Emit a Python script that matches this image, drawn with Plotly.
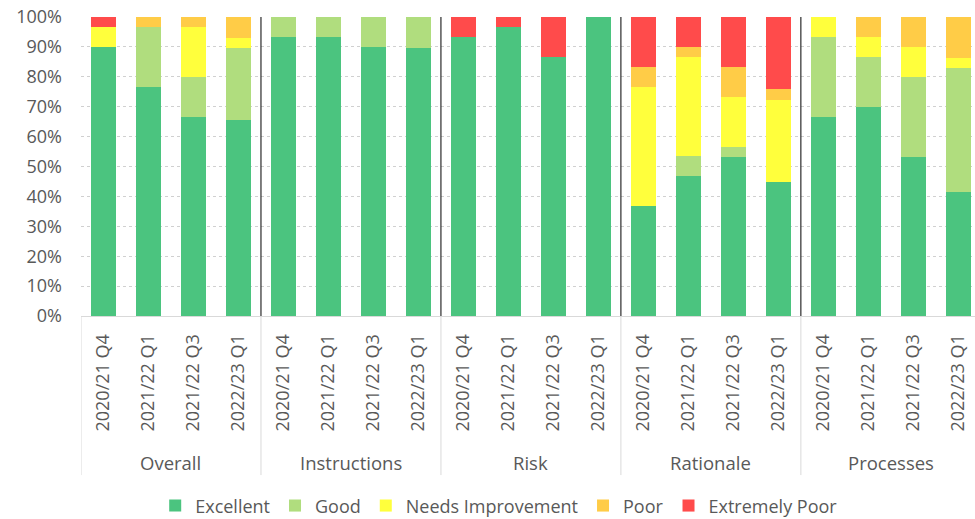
import plotly.graph_objects as go

groups = ["Overall", "Instructions", "Risk", "Rationale", "Processes"]
periods = ["2020/21 Q4", "2021/22 Q1", "2021/22 Q3", "2022/23 Q1"]

excellent = [90, 76.7, 66.7, 65.5, 93.3, 93.3, 90, 89.7, 93.3, 96.7, 86.7, 100,
             36.7, 46.7, 53.3, 44.8, 66.7, 70, 53.3, 41.4]
good = [0, 20, 13.3, 24.1, 6.7, 6.7, 10, 10.3, 0, 0, 0, 0,
        0, 6.7, 3.3, 0, 26.7, 16.7, 26.7, 41.4]
needs_improvement = [6.7, 0, 16.7, 3.4, 0, 0, 0, 0, 0, 0, 0, 0,
                     40, 33.3, 16.7, 27.6, 6.7, 6.7, 10, 3.4]
poor = [0, 3.3, 3.3, 6.9, 0, 0, 0, 0, 0, 0, 0, 0,
        6.7, 3.3, 10, 3.4, 0, 6.7, 10, 13.8]
extremely_poor = [3.3, 0, 0, 0, 0, 0, 0, 0, 6.7, 3.3, 13.3, 0,
                  16.7, 10, 16.7, 24.1, 0, 0, 0, 0]

series = [
    ("Excellent", excellent, "#4BC47F"),
    ("Good", good, "#B0DD7E"),
    ("Needs Improvement", needs_improvement, "#FFFF3C"),
    ("Poor", poor, "#FFCC47"),
    ("Extremely Poor", extremely_poor, "#FF4B4B"),
]

x_ids = [f"{g}|{p}" for g in groups for p in periods]
x_text = [p for g in groups for p in periods]

FONT = "Open Sans"
GREY = "#595959"

fig = go.Figure()
for name, vals, col in series:
    fig.add_trace(go.Bar(x=x_ids, y=vals, name=name, marker_color=col,
                         marker_line_width=0))

n_per = len(periods)
shapes = []
annotations = []
for gi, g in enumerate(groups):
    left = gi * n_per - 0.5
    if gi > 0:
        shapes.append(dict(type="line", xref="x", yref="paper", x0=left, x1=left,
                           y0=0, y1=1, line=dict(color="black", width=1)))
    shapes.append(dict(type="line", xref="x", yref="paper", x0=left, x1=left,
                       y0=0, y1=-0.532, line=dict(color="#D9D9D9", width=1)))
    annotations.append(dict(x=left + n_per / 2, y=-0.49, xref="x", yref="paper",
                            yanchor="middle", xanchor="center",
                            text=g, showarrow=False,
                            font=dict(family=FONT, size=18.5, color=GREY)))

fig.update_layout(
    barmode="stack",
    bargap=0.44,
    width=975, height=519,
    margin=dict(l=81, r=0, t=17, b=203, autoexpand=False),
    plot_bgcolor="white", paper_bgcolor="white",
    font=dict(family=FONT, size=18, color=GREY),
    shapes=shapes,
    annotations=annotations,
    showlegend=True,
    legend=dict(orientation="h", x=0.083, xanchor="left", y=-0.635, yanchor="middle",
                font=dict(family=FONT, size=18, color=GREY), itemwidth=30,
                traceorder="normal"),
    xaxis=dict(type="category", tickvals=x_ids, ticktext=x_text, tickangle=-90,
               range=[-0.5, 19.37], showgrid=False, showline=True,
               linecolor="#D9D9D9", ticks="", ticklabelstandoff=10,
               ticklabeloverflow="allow",
               tickfont=dict(family=FONT, size=18, color=GREY), fixedrange=True),
    yaxis=dict(range=[0, 100], dtick=10, ticksuffix="%", showgrid=True,
               gridcolor="#D0D0D0", griddash="dot", gridwidth=1, zeroline=False,
               ticks="", ticklabelstandoff=18, ticklabeloverflow="allow",
               tickfont=dict(family=FONT, size=18, color=GREY)),
)

fig.write_html(
    "out.html",
    config={"displayModeBar": False},
    post_script="document.body.style.margin='0';document.body.style.overflow='hidden';",
)
